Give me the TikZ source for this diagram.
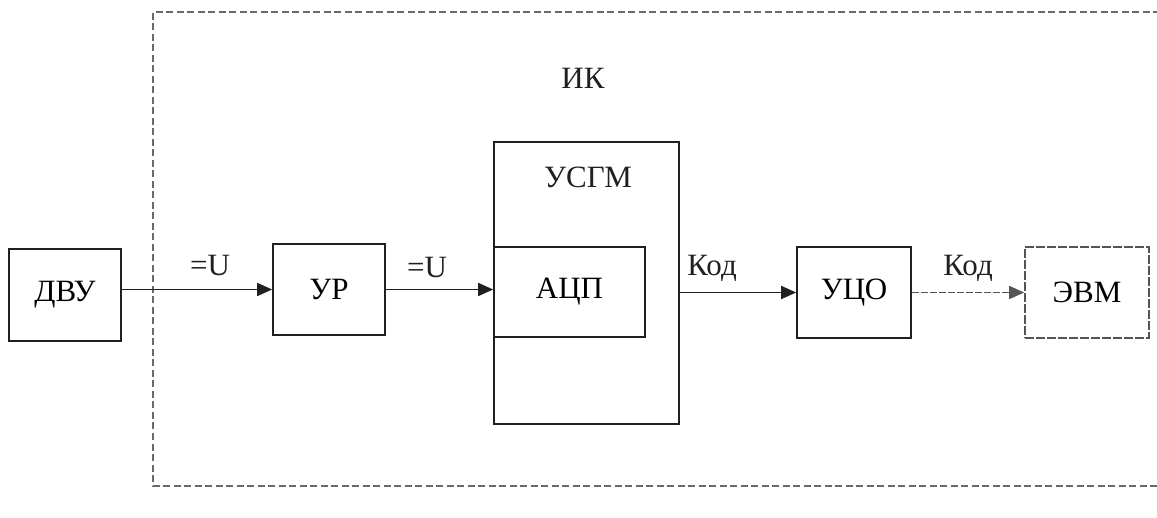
\documentclass[tikz,border=0pt]{standalone}
\usepackage{fontspec}
\setmainfont{Liberation Serif}
\usetikzlibrary{arrows.meta}
\definecolor{ink}{HTML}{202020}
\definecolor{faint}{HTML}{555555}
\definecolor{framegray}{HTML}{6A6A6A}
\tikzset{
  blk/.style={draw=ink, line width=1.6pt, rectangle, inner sep=0pt, font=\fontsize{31}{34}\selectfont},
  lbl/.style={inner sep=0pt, font=\fontsize{31}{34}\selectfont, text=ink},
  flow/.style={draw=ink, line width=1.6pt, -{Triangle[length=15pt,width=13pt]}},
  weakflow/.style={draw=faint, line width=1.6pt, dash pattern=on 7pt off 2pt, -{Triangle[length=15pt,width=13pt]}},
  frame/.style={draw=framegray, line width=1.2pt, dash pattern=on 7pt off 3.5pt},
}
\begin{document}
\begin{tikzpicture}[x=1pt, y=-1pt]
  \useasboundingbox (0,0) rectangle (1157,518);

  % dashed boundary of the measuring channel, open to the right
  \coordinate (ftop) at (1160,12);
  \coordinate (fcorner1) at (153,12);
  \coordinate (fcorner2) at (153,486);
  \coordinate (fbot) at (1160,486);
  \draw[frame] (ftop) -- (fcorner1) -- (fcorner2) -- (fbot);
  \node[lbl] (ik) at (583,78) {ИК};

  % blocks
  \node[blk, minimum width=112pt, minimum height=92pt] (dvu) at (65,295) {ДВУ};
  \node[blk, minimum width=112pt, minimum height=91pt] (ur) at (329,289.5) {УР};
  \node[blk, minimum width=185pt, minimum height=282pt] (usgm) at (586.5,283) {};
  \node[lbl] (usgmlbl) at (588,177) {УСГМ};
  \node[blk, minimum width=151pt, minimum height=90pt] (acp) at (569.5,292) {АЦП};
  \node[blk, minimum width=114pt, minimum height=91pt] (uco) at (854,292.5) {УЦО};
  \node[blk, draw=faint, dash pattern=on 9pt off 2pt, minimum width=124pt, minimum height=91pt] (evm) at (1087,292.5) {ЭВМ};

  % signal connections
  \draw[flow] (dvu.east |- ur.west) -- (ur.west);
  \draw[flow] (ur.east) -- (acp.west |- ur.east);
  \draw[flow] (usgm.east |- uco.west) -- (uco.west);
  \draw[weakflow] (uco.east) -- (evm.west);

  % connection labels
  \node[lbl] (u1) at (210,266) {=U};
  \node[lbl] (u2) at (427,268) {=U};
  \node[lbl] (kod1) at (712,268) {Код};
  \node[lbl] (kod2) at (968,268) {Код};
\end{tikzpicture}
\end{document}
